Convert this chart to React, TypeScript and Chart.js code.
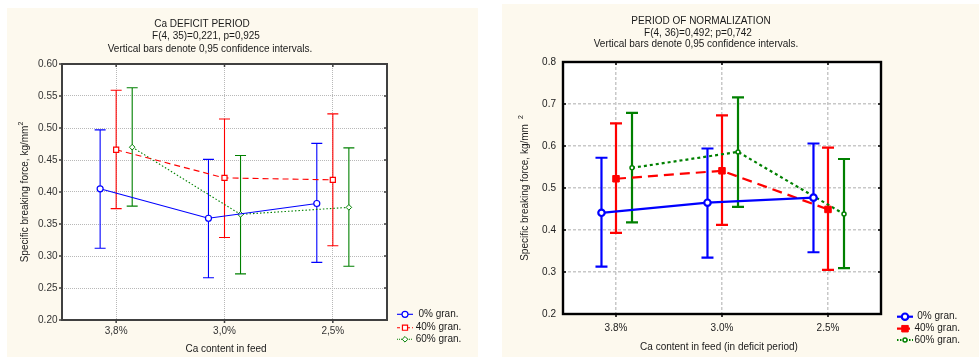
import React, { useEffect, useRef } from "react";
import { Chart, registerables } from "chart.js";

Chart.register(...registerables);

const FONT = "'Liberation Sans', Arial, Helvetica, sans-serif";

// ---------- data ----------
const seriesLabels = ["0% gran.", "40% gran.", "60% gran."];

// Ca deficit period
const deficitCategories = ["3,8%", "3,0%", "2,5%"];
const deficitYTicks = [0.2, 0.25, 0.3, 0.35, 0.4, 0.45, 0.5, 0.55, 0.6];
const deficitMean0 = [0.405, 0.359, 0.382];
const deficitLow0 = [0.312, 0.266, 0.29];
const deficitHigh0 = [0.497, 0.451, 0.476];
const deficitMean40 = [0.466, 0.422, 0.419];
const deficitLow40 = [0.374, 0.329, 0.316];
const deficitHigh40 = [0.559, 0.514, 0.522];
const deficitMean60 = [0.47, 0.365, 0.376];
const deficitLow60 = [0.378, 0.272, 0.284];
const deficitHigh60 = [0.563, 0.457, 0.469];

// Period of normalization
const normCategories = ["3.8%", "3.0%", "2.5%"];
const normYTicks = [0.2, 0.3, 0.4, 0.5, 0.6, 0.7, 0.8];
const normMean0 = [0.441, 0.465, 0.477];
const normLow0 = [0.313, 0.334, 0.347];
const normHigh0 = [0.572, 0.594, 0.606];
const normMean40 = [0.522, 0.541, 0.449];
const normLow40 = [0.393, 0.412, 0.305];
const normHigh40 = [0.654, 0.673, 0.596];
const normMean60 = [0.548, 0.586, 0.438];
const normLow60 = [0.418, 0.455, 0.309];
const normHigh60 = [0.679, 0.716, 0.569];

const BLUE = "#0000ff";
const RED = "#ff0000";
const GREEN = "#008000";
const CREAM = "#fdf9ee";

type Series = {
  label: string;
  mean: number[];
  low: number[];
  high: number[];
  color: string;
  dash: number[];
  pointStyle: string;
  radius: number;
  pointBg: string;
  pointBorderWidth: number;
  offset: number;
};

type Spec = {
  width: number;
  height: number;
  left: number;
  top: number;
  area: { l: number; r: number; t: number; b: number };
  categories: string[];
  yTicks: number[];
  yDecimals: number;
  series: Series[];
  titles: { text: string; x: number; y: number }[];
  xTitle: { text: string; x: number; y: number };
  yTitle: { text: string; sup: string; gap: number; x: number; y: number };
  legend: { x0: number; x1: number; textX: number; ys: number[]; texts: string[] };
  lineWidth: number;
  errWidth: number;
  capHalf: number;
  frameColor: string;
  frameWidth: number;
  gridColor: string;
  gridDash: number[];
  gridWidth: number;
  xTickPad: number;
  yTickPad: number;
  tickColor: string;
  leftTickOut: boolean;
};

const deficitSpec: Spec = {
  width: 471,
  height: 349,
  left: 7,
  top: 8,
  area: { l: 55, r: 380, t: 56, b: 312 },
  categories: deficitCategories,
  yTicks: deficitYTicks,
  yDecimals: 2,
  series: [
    { label: seriesLabels[0], mean: deficitMean0, low: deficitLow0, high: deficitHigh0, color: BLUE, dash: [], pointStyle: "circle", radius: 3, pointBg: "#ffffff", pointBorderWidth: 1.2, offset: -0.148 },
    { label: seriesLabels[1], mean: deficitMean40, low: deficitLow40, high: deficitHigh40, color: RED, dash: [6, 4], pointStyle: "rect", radius: 3.6, pointBg: "#ffffff", pointBorderWidth: 1.2, offset: 0 },
    { label: seriesLabels[2], mean: deficitMean60, low: deficitLow60, high: deficitHigh60, color: GREEN, dash: [1.5, 2], pointStyle: "rectRot", radius: 2.8, pointBg: "#ffffff", pointBorderWidth: 1, offset: 0.148 },
  ],
  titles: [
    { text: "Ca DEFICIT PERIOD", x: 195, y: 16 },
    { text: "F(4, 35)=0,221, p=0,925", x: 199, y: 28 },
    { text: "Vertical bars denote 0,95 confidence intervals.", x: 203, y: 41 },
  ],
  xTitle: { text: "Ca content in feed", x: 219, y: 341 },
  yTitle: { text: "Specific breaking force, kg/mm", sup: "2", gap: 0, x: 18, y: 184 },
  legend: { x0: 390, x1: 406, textX: 408.7, ys: [306.3, 319.7, 331.3], texts: [" 0% gran.", "40% gran.", "60% gran."] },
  lineWidth: 1.1,
  errWidth: 1.1,
  capHalf: 5.5,
  frameColor: "#404040",
  frameWidth: 2,
  gridColor: "#b8b8b8",
  gridDash: [1, 1],
  gridWidth: 1,
  xTickPad: 5,
  yTickPad: 4.5,
  tickColor: "#333333",
  leftTickOut: true,
};

const normSpec: Spec = {
  width: 477,
  height: 353,
  left: 502,
  top: 4,
  area: { l: 61, r: 379, t: 58, b: 310 },
  categories: normCategories,
  yTicks: normYTicks,
  yDecimals: 1,
  series: [
    { label: seriesLabels[0], mean: normMean0, low: normLow0, high: normHigh0, color: BLUE, dash: [], pointStyle: "circle", radius: 3.2, pointBg: "#ffffff", pointBorderWidth: 2.2, offset: -0.137 },
    { label: seriesLabels[1], mean: normMean40, low: normLow40, high: normHigh40, color: RED, dash: [10, 6], pointStyle: "rect", radius: 4.6, pointBg: RED, pointBorderWidth: 1, offset: 0 },
    { label: seriesLabels[2], mean: normMean60, low: normLow60, high: normHigh60, color: GREEN, dash: [3, 3], pointStyle: "circle", radius: 2, pointBg: "#ffffff", pointBorderWidth: 1.5, offset: 0.151 },
  ],
  titles: [
    { text: "PERIOD OF NORMALIZATION", x: 199, y: 17 },
    { text: "F(4, 36)=0,492; p=0,742", x: 196, y: 29 },
    { text: "Vertical bars denote 0,95 confidence intervals.", x: 194, y: 40 },
  ],
  xTitle: { text: "Ca content in feed (in deficit period)", x: 217, y: 343 },
  yTitle: { text: "Specific breaking force, kg/mm", sup: "2", gap: 5, x: 23, y: 184 },
  legend: { x0: 395, x1: 411, textX: 412.5, ys: [312.7, 324.7, 336], texts: [" 0% gran.", "40% gran.", "60% gran."] },
  lineWidth: 2.2,
  errWidth: 2.2,
  capHalf: 6,
  frameColor: "#000000",
  frameWidth: 2.4,
  gridColor: "#c8c8c8",
  gridDash: [3, 2],
  gridWidth: 1.5,
  xTickPad: 8,
  yTickPad: 7,
  tickColor: "#222222",
  leftTickOut: false,
};

function drawMarker(
  ctx: CanvasRenderingContext2D,
  style: string,
  x: number,
  y: number,
  r: number,
  fill: string,
  stroke: string,
  bw: number
) {
  ctx.save();
  ctx.setLineDash([]);
  ctx.beginPath();
  if (style === "circle") {
    ctx.arc(x, y, r, 0, Math.PI * 2);
  } else if (style === "rect") {
    const s = r * Math.SQRT1_2;
    ctx.rect(x - s, y - s, 2 * s, 2 * s);
  } else {
    ctx.moveTo(x - r, y);
    ctx.lineTo(x, y - r);
    ctx.lineTo(x + r, y);
    ctx.lineTo(x, y + r);
    ctx.closePath();
  }
  ctx.fillStyle = fill;
  ctx.fill();
  ctx.lineWidth = bw;
  ctx.strokeStyle = stroke;
  ctx.stroke();
  ctx.restore();
}

function makeConfig(spec: Spec): any {
  const { area, width, height } = spec;
  const xAxisH = 30;

  const bgPlugin = {
    id: "bg",
    beforeDraw(chart: any) {
      const ctx = chart.ctx as CanvasRenderingContext2D;
      const ca = chart.chartArea;
      ctx.save();
      ctx.fillStyle = CREAM;
      ctx.fillRect(0, 0, chart.width, chart.height);
      ctx.fillStyle = "#ffffff";
      ctx.fillRect(ca.left, ca.top, ca.right - ca.left, ca.bottom - ca.top);
      ctx.restore();
    },
  };

  const errPlugin = {
    id: "errbars",
    beforeDatasetsDraw(chart: any) {
      const ctx = chart.ctx as CanvasRenderingContext2D;
      const ys = chart.scales.y;
      ctx.save();
      ctx.setLineDash([]);
      ctx.lineWidth = spec.errWidth;
      spec.series.forEach((s, di) => {
        const meta = chart.getDatasetMeta(di);
        ctx.strokeStyle = s.color;
        meta.data.forEach((pt: any, i: number) => {
          const x = pt.x;
          const yl = ys.getPixelForValue(s.low[i]);
          const yh = ys.getPixelForValue(s.high[i]);
          ctx.beginPath();
          ctx.moveTo(x, yl);
          ctx.lineTo(x, yh);
          ctx.moveTo(x - spec.capHalf, yl);
          ctx.lineTo(x + spec.capHalf, yl);
          ctx.moveTo(x - spec.capHalf, yh);
          ctx.lineTo(x + spec.capHalf, yh);
          ctx.stroke();
        });
      });
      ctx.restore();
    },
  };

  const framePlugin = {
    id: "frame",
    beforeDatasetsDraw(chart: any) {
      const ctx = chart.ctx as CanvasRenderingContext2D;
      const ca = chart.chartArea;
      const xs = chart.scales.x;
      const ys = chart.scales.y;
      ctx.save();
      ctx.setLineDash([]);
      ctx.strokeStyle = spec.frameColor;
      ctx.lineWidth = spec.frameWidth;
      ctx.strokeRect(ca.left, ca.top, ca.right - ca.left, ca.bottom - ca.top);
      ctx.lineWidth = 1.5;
      const tl = 3;
      spec.yTicks.forEach((v) => {
        const y = ys.getPixelForValue(v);
        ctx.beginPath();
        if (spec.leftTickOut) {
          ctx.moveTo(ca.left - tl, y);
          ctx.lineTo(ca.left, y);
        } else {
          ctx.moveTo(ca.left, y);
          ctx.lineTo(ca.left + tl, y);
        }
        ctx.moveTo(ca.right - tl, y);
        ctx.lineTo(ca.right, y);
        ctx.stroke();
      });
      spec.categories.forEach((_, i) => {
        const x = xs.getPixelForValue(i);
        ctx.beginPath();
        ctx.moveTo(x, ca.top);
        ctx.lineTo(x, ca.top + tl);
        ctx.moveTo(x, ca.bottom);
        ctx.lineTo(x, ca.bottom + tl);
        ctx.stroke();
      });
      ctx.restore();
    },
  };

  const textPlugin = {
    id: "texts",
    afterDraw(chart: any) {
      const ctx = chart.ctx as CanvasRenderingContext2D;
      ctx.save();
      ctx.fillStyle = "#1a1a1a";
      ctx.font = `10px ${FONT}`;
      ctx.textAlign = "center";
      ctx.textBaseline = "middle";
      spec.titles.forEach((t) => ctx.fillText(t.text, t.x, t.y));
      ctx.fillText(spec.xTitle.text, spec.xTitle.x, spec.xTitle.y);

      // y title (rotated) with superscript
      const yt = spec.yTitle;
      ctx.save();
      ctx.translate(yt.x, yt.y);
      ctx.rotate(-Math.PI / 2);
      ctx.font = `10px ${FONT}`;
      const mainW = ctx.measureText(yt.text).width;
      ctx.font = `7px ${FONT}`;
      const supW = ctx.measureText(yt.sup).width;
      const total = mainW + yt.gap + supW;
      ctx.textAlign = "left";
      ctx.font = `10px ${FONT}`;
      ctx.fillText(yt.text, -total / 2, 0);
      ctx.font = `7px ${FONT}`;
      ctx.fillText(yt.sup, -total / 2 + mainW + yt.gap, -4);
      ctx.restore();

      // legend
      const lg = spec.legend;
      spec.series.forEach((s, i) => {
        const y = lg.ys[i];
        ctx.save();
        ctx.strokeStyle = s.color;
        ctx.lineWidth = spec.lineWidth;
        ctx.setLineDash(s.dash.length ? s.dash.map((d) => Math.max(1, d * 0.5)) : []);
        ctx.beginPath();
        ctx.moveTo(lg.x0, y);
        ctx.lineTo(lg.x1, y);
        ctx.stroke();
        ctx.restore();
        drawMarker(ctx, s.pointStyle, (lg.x0 + lg.x1) / 2, y, s.radius, s.pointBg, s.color, s.pointBorderWidth);
        ctx.fillStyle = "#1a1a1a";
        ctx.font = `10px ${FONT}`;
        ctx.textAlign = "left";
        ctx.textBaseline = "middle";
        ctx.fillText(lg.texts[i], lg.textX, y);
      });
      ctx.restore();
    },
  };

  return {
    type: "line",
    data: {
      datasets: spec.series.map((s) => ({
        label: s.label,
        data: s.mean.map((v, i) => ({ x: i + s.offset, y: v })),
        borderColor: s.color,
        backgroundColor: s.color,
        borderWidth: spec.lineWidth,
        borderDash: s.dash,
        fill: false,
        tension: 0,
        pointStyle: s.pointStyle,
        pointRadius: s.radius,
        pointHoverRadius: s.radius,
        pointBackgroundColor: s.pointBg,
        pointBorderColor: s.color,
        pointBorderWidth: s.pointBorderWidth,
      })),
    },
    options: {
      responsive: false,
      maintainAspectRatio: false,
      animation: false,
      devicePixelRatio: 1,
      layout: {
        padding: {
          left: 0,
          top: area.t,
          right: width - area.r,
          bottom: height - area.b - xAxisH,
        },
      },
      plugins: {
        legend: { display: false },
        title: { display: false },
        tooltip: { enabled: false },
      },
      events: [],
      scales: {
        x: {
          type: "linear",
          min: -0.5,
          max: 2.5,
          afterBuildTicks: (s: any) => {
            s.ticks = spec.categories.map((_, i) => ({ value: i }));
          },
          afterFit: (s: any) => {
            s.height = xAxisH;
          },
          ticks: {
            autoSkip: false,
            maxRotation: 0,
            padding: spec.xTickPad,
            color: spec.tickColor,
            font: { family: FONT, size: 10 },
            callback: (v: any) => spec.categories[Math.round(Number(v))] ?? "",
          },
          grid: {
            drawTicks: false,
            color: spec.gridColor,
            lineWidth: spec.gridWidth,
          },
          border: { display: false, dash: spec.gridDash },
        },
        y: {
          type: "linear",
          min: spec.yTicks[0],
          max: spec.yTicks[spec.yTicks.length - 1],
          afterBuildTicks: (s: any) => {
            s.ticks = spec.yTicks.map((v) => ({ value: v }));
          },
          afterFit: (s: any) => {
            s.width = area.l;
          },
          ticks: {
            padding: spec.yTickPad,
            color: spec.tickColor,
            font: { family: FONT, size: 10 },
            callback: (v: any) => Number(v).toFixed(spec.yDecimals),
          },
          grid: {
            drawTicks: false,
            color: spec.gridColor,
            lineWidth: spec.gridWidth,
          },
          border: { display: false, dash: spec.gridDash },
        },
      },
    },
    plugins: [bgPlugin, framePlugin, errPlugin, textPlugin],
  };
}

function Panel({ spec }: { spec: Spec }) {
  const ref = useRef<HTMLCanvasElement | null>(null);
  useEffect(() => {
    if (!ref.current) return;
    const chart = new Chart(ref.current, makeConfig(spec));
    return () => chart.destroy();
  }, [spec]);
  return (
    <canvas
      ref={ref}
      width={spec.width}
      height={spec.height}
      style={{
        position: "absolute",
        left: spec.left,
        top: spec.top,
        width: spec.width,
        height: spec.height,
        display: "block",
      }}
    />
  );
}

export default function App() {
  return (
    <div
      style={{
        position: "absolute",
        left: 0,
        top: 0,
        width: 979,
        height: 357,
        background: "#ffffff",
        overflow: "hidden",
      }}
    >
      <Panel spec={deficitSpec} />
      <Panel spec={normSpec} />
    </div>
  );
}
